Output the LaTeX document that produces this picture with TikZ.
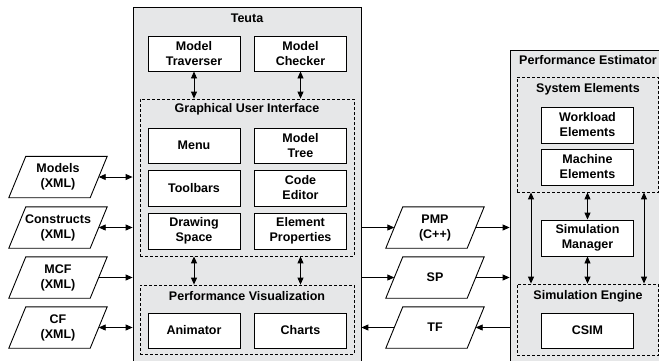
\documentclass[tikz,border=0pt]{standalone}
\usepackage{fontspec}
\setmainfont{Liberation Sans}
\usetikzlibrary{arrows.meta,calc}
\definecolor{panel}{HTML}{E6E7E8}
\begin{document}
\begin{tikzpicture}[x=1pt,y=-1pt,
  font=\fontsize{12.5}{15}\selectfont\bfseries,
  outer/.style={draw,line width=0.8pt,fill=panel,rectangle,inner sep=0pt},
  group/.style={draw,dashed,dash pattern=on 3pt off 2pt,line width=0.8pt,fill=panel,rectangle,inner sep=0pt},
  comp/.style={draw,line width=0.9pt,fill=white,rectangle,align=center,inner sep=0pt,minimum width=92pt,minimum height=35pt},
  io/.style={rectangle,align=center,inner sep=0pt,minimum width=81pt,minimum height=41pt},
  title/.style={inner sep=0pt,anchor=center},
  conn/.style={line width=0.9pt,-{Triangle[length=7pt,width=6pt]}},
  biconn/.style={line width=0.9pt,{Triangle[length=7pt,width=6pt]}-{Triangle[length=7pt,width=6pt]}}
]
\useasboundingbox (0,0) rectangle (659,360);
\clip (0,0) rectangle (659,360);
\fill[white] (0,0) rectangle (659,360);

% ---- Teuta ----
\node[outer,minimum width=228pt,minimum height=365pt] (teuta) at (247,189.5) {};
\node[title] (teutalbl) at (247,18) {Teuta};
\node[comp] (trav) at (194,53.5) {Model\\Traverser};
\node[comp] (check) at (300.5,53.5) {Model\\Checker};

\node[group,minimum width=214pt,minimum height=157pt] (gui) at (247,177.5) {};
\node[title] (guilbl) at (247,109.5) {Graphical User Interface};
\node[comp] (menu) at (194,145.5) {Menu};
\node[comp] (tree) at (300.5,145.5) {Model\\Tree};
\node[comp,minimum height=36pt] (tool) at (194,188) {Toolbars};
\node[comp,minimum height=36pt] (code) at (300.5,188) {Code\\Editor};
\node[comp,minimum height=36pt] (draw) at (194,231) {Drawing\\Space};
\node[comp,minimum height=36pt] (prop) at (300.5,231) {Element\\Properties};

\node[group,minimum width=214pt,minimum height=69pt] (pv) at (247,319.5) {};
\node[title] (pvlbl) at (247,296.5) {Performance Visualization};
\node[comp] (anim) at (194,330.5) {Animator};
\node[comp] (chart) at (300.5,330.5) {Charts};

\draw[biconn] (trav.south) -- (trav.south |- gui.north);
\draw[biconn] (check.south) -- (check.south |- gui.north);
\draw[biconn] (gui.south -| draw) -- (pv.north -| draw);
\draw[biconn] (gui.south -| prop) -- (pv.north -| prop);

% ---- Performance Estimator ----
\node[outer,minimum width=156pt,minimum height=322pt] (pe) at (588,211) {};
\node[title] (pelbl) at (588,60.5) {Performance Estimator};
\node[group,minimum width=141.5pt,minimum height=115pt] (se) at (587.75,134.5) {};
\node[title] (selbl) at (588,89.5) {System Elements};
\node[comp,minimum height=36pt] (work) at (587.5,125) {Workload\\Elements};
\node[comp,minimum height=36pt] (mach) at (587.5,167) {Machine\\Elements};
\node[comp,minimum height=36pt] (sm) at (587.5,238) {Simulation\\Manager};
\node[group,minimum width=141.5pt,minimum height=71pt] (seng) at (587.75,319.5) {};
\node[title] (senglbl) at (588,296.5) {Simulation Engine};
\node[comp] (csim) at (587.5,330.5) {CSIM};

\draw[biconn] (se.south -| sm) -- (sm.north);
\draw[biconn] (sm.south) -- (seng.north -| sm);
\coordinate (la) at (531,0);
\coordinate (ra) at (644,0);
\draw[biconn] (se.south -| la) -- (seng.north -| la);
\draw[biconn] (se.south -| ra) -- (seng.north -| ra);

% ---- data files ----
\newcommand{\para}[1]{\draw[line width=0.9pt,fill=white]
  ($(#1.north west)+(8.5,0)$) -- ($(#1.north east)+(8.5,0)$) --
  ($(#1.south east)+(-8.5,0)$) -- ($(#1.south west)+(-8.5,0)$) -- cycle;}

\foreach \n/\x/\y in {models/58/177,constr/58/227.5,mcf/58/277.5,cf/58/327.5,pmp/435/227.5,sp/435/277.5,tf/435/327.5}{
  \node[io] (\n) at (\x,\y) {};
  \para{\n}
}
\node[io] at (models) {Models\\(XML)};
\node[io] at (constr) {Constructs\\(XML)};
\node[io] at (mcf) {MCF\\(XML)};
\node[io] at (cf) {CF\\(XML)};
\node[io] at (pmp) {PMP\\(C++)};
\node[io] at (sp) {SP};
\node[io] at (tf) {TF};

\draw[biconn] (models.east) -- (models.east -| teuta.west);
\draw[biconn] (constr.east) -- (constr.east -| teuta.west);
\draw[conn] (mcf.east) -- (mcf.east -| teuta.west);
\draw[biconn] (cf.east) -- (cf.east -| teuta.west);

\draw[conn] (pmp.west -| teuta.east) -- (pmp.west);
\draw[conn] (pmp.east) -- (pmp.east -| pe.west);
\draw[conn] (sp.west -| teuta.east) -- (sp.west);
\draw[conn] (sp.east) -- (sp.east -| pe.west);
\draw[conn] (tf.east -| pe.west) -- (tf.east);
\draw[conn] (tf.west) -- (tf.west -| teuta.east);
\end{tikzpicture}
\end{document}
